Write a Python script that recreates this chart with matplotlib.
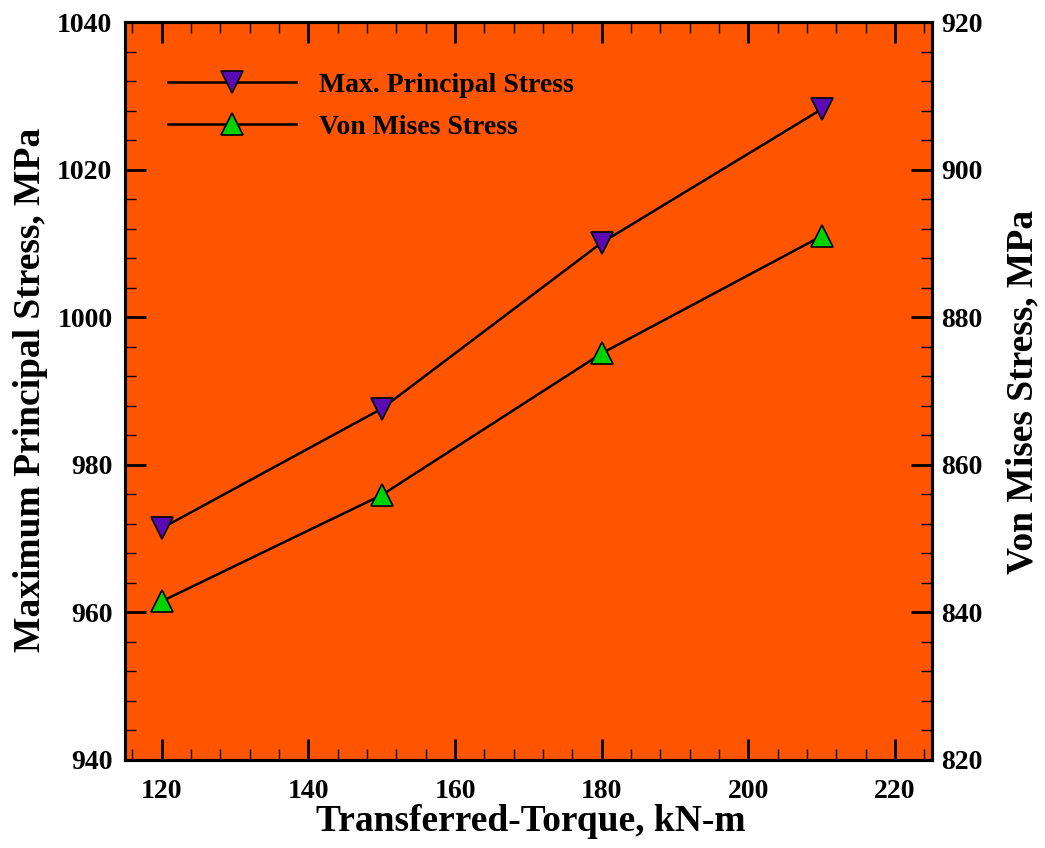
import matplotlib
matplotlib.use("Agg")
import matplotlib.pyplot as plt
from matplotlib.ticker import MultipleLocator

torque = [120, 150, 180, 210]
max_principal = [971.4, 987.6, 1010.1, 1028.2]
von_mises = [841.5, 855.9, 875.1, 891.0]

plt.rcParams['font.family'] = ['Liberation Serif', 'DejaVu Serif']
plt.rcParams['font.weight'] = 'bold'

fig = plt.figure(figsize=(10.45, 8.48), dpi=100)
ax = fig.add_axes([0.1196, 0.1038, 0.772, 0.8702])
ax.set_facecolor('#FF5500')
ax2 = ax.twinx()

l1, = ax.plot(torque, max_principal, color='black', lw=1.8, marker='v', ms=16,
              mfc='#5A0AB4', mec='black', mew=1.2, label='Max. Principal Stress')
l2, = ax2.plot(torque, von_mises, color='black', lw=1.8, marker='^', ms=16,
               mfc='#00D200', mec='black', mew=1.2, label='Von Mises Stress')

ax.set_xlim(115, 225)
ax.set_ylim(940, 1040)
ax2.set_ylim(820, 920)

ax.xaxis.set_major_locator(MultipleLocator(20))
ax.xaxis.set_minor_locator(MultipleLocator(4))
ax.yaxis.set_major_locator(MultipleLocator(20))
ax.yaxis.set_minor_locator(MultipleLocator(4))
ax2.yaxis.set_major_locator(MultipleLocator(20))
ax2.yaxis.set_minor_locator(MultipleLocator(4))

ax.tick_params(axis='x', which='both', direction='in', top=True, labelsize=20, pad=14)
ax.tick_params(axis='y', which='both', direction='in', labelsize=20, pad=9)
ax.tick_params(which='major', length=15, width=2)
ax.tick_params(which='minor', length=8, width=1)
ax2.tick_params(axis='y', which='both', direction='in', labelsize=20, pad=7)
ax2.tick_params(which='major', length=15, width=2)
ax2.tick_params(which='minor', length=8, width=1)

for a in (ax, ax2):
    for s in a.spines.values():
        s.set_linewidth(2.2)

ax.set_xlabel('Transferred-Torque, kN-m', fontsize=27, fontweight='bold')
ax.set_ylabel('Maximum Principal Stress, MPa', fontsize=27, fontweight='bold')
ax2.set_ylabel('Von Mises Stress, MPa', fontsize=27, fontweight='bold')
ax.xaxis.label.set_va('center')
ax.yaxis.label.set_va('center')
ax2.yaxis.label.set_va('center')
ax.xaxis.set_label_coords(0.503, -0.084)
ax.yaxis.set_label_coords(-0.117, 0.501)
ax2.yaxis.set_label_coords(1.113, 0.499)

ax.legend(handles=[l1, l2], loc='upper left', bbox_to_anchor=(0.053, 0.932), frameon=False,
          fontsize=20, handlelength=4.6, handletextpad=0.86, labelspacing=0.61,
          borderpad=0, borderaxespad=0)

fig.savefig('out.png', dpi=100, facecolor='white')
